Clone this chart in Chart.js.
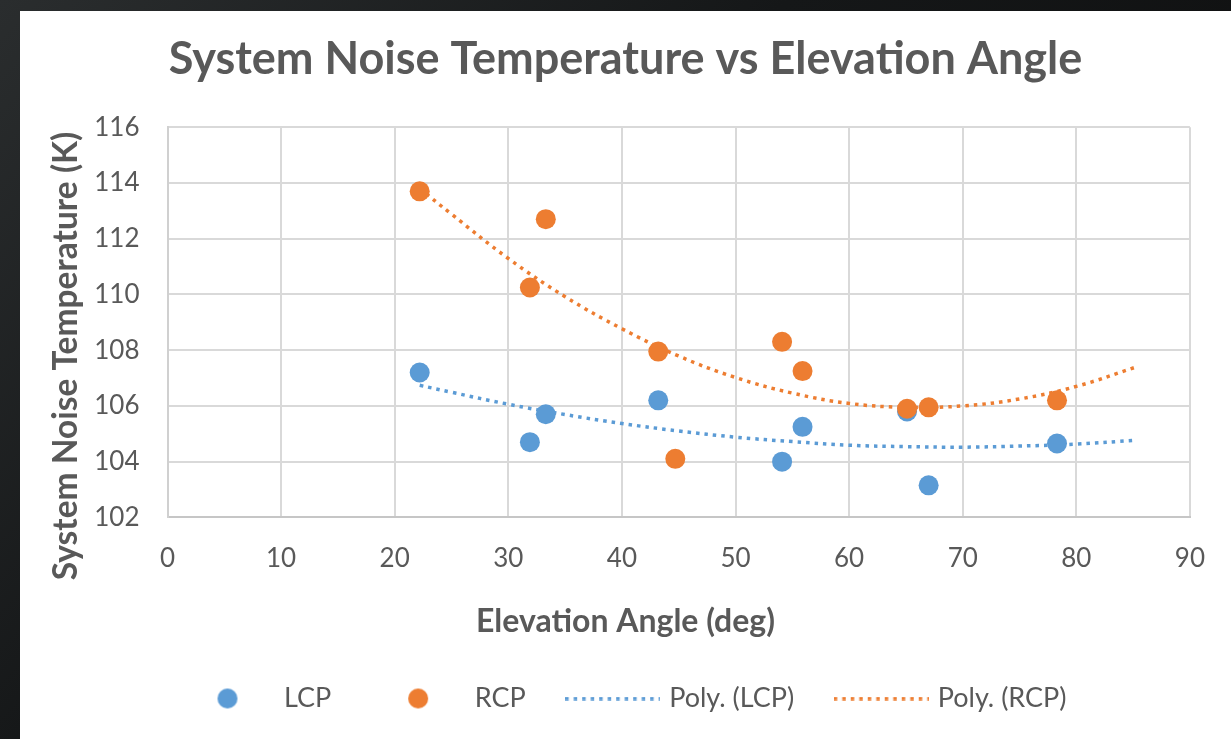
<!DOCTYPE html>
<html>
<head>
<meta charset="utf-8">
<script src="https://cdn.jsdelivr.net/npm/chart.js@4/dist/chart.umd.min.js"></script>
<style>
  html, body { margin: 0; padding: 0; }
  body {
    width: 1231px; height: 739px; overflow: hidden; position: relative;
    background: linear-gradient(135deg, #2a2d2e 0%, #151718 40%, #0b0b0b 100%);
  }
  #panel { position: absolute; left: 20px; top: 11px; width: 1211px; height: 728px; background: #ffffff; }
  #chart { display: block; }
</style>
</head>
<body>
<div id="panel"><canvas id="chart" width="1211" height="728"></canvas></div>
<script>
// Elevation angle (deg) of each measurement
const lcpAngles = [22.2, 31.9, 33.3, 43.2, 54.1, 55.9, 65.1, 67.0, 78.3];
const rcpAngles = [22.2, 31.9, 33.3, 43.2, 44.7, 54.1, 55.9, 65.1, 67.0, 78.3];
// System noise temperature (K)
const lcpTemps = [107.2, 104.7, 105.7, 106.2, 104.0, 105.25, 105.8, 103.15, 104.65];
const rcpTemps = [113.7, 110.25, 112.7, 107.95, 104.1, 108.3, 107.25, 105.9, 105.95, 106.2];
// 2nd-order polynomial trendlines, sampled along the angle range
const trendAngles = [22.2, 25, 30, 35, 40, 45, 50, 55, 60, 65, 70, 75, 80, 85.3];
const lcpTrend = [106.74, 106.49, 106.06, 105.69, 105.37, 105.10, 104.88, 104.72, 104.59, 104.54, 104.52, 104.56, 104.63, 104.77];
const rcpTrend = [113.8, 112.88, 111.29, 109.92, 108.77, 107.79, 107.02, 106.46, 106.09, 105.95, 106.0, 106.25, 106.7, 107.4];
// Axis ticks
const xTicks = [0, 10, 20, 30, 40, 50, 60, 70, 80, 90];
const yTicks = [102, 104, 106, 108, 110, 112, 114, 116];

const BLUE = '#5B9BD5';
const ORANGE = '#ED7D31';
const TEXT = '#595959';
const FONT = 'Lato, "Open Sans", sans-serif';

const toPoints = (xs, ys) => xs.map((x, i) => ({ x, y: ys[i] }));

// Legend symbols
function dotIcon(color) {
  const c = document.createElement('canvas');
  c.width = 22; c.height = 22;
  const g = c.getContext('2d');
  g.fillStyle = color;
  g.beginPath(); g.arc(11, 11, 10, 0, Math.PI * 2); g.fill();
  return c;
}
function dottedIcon(color) {
  const c = document.createElement('canvas');
  c.width = 95; c.height = 4;
  const g = c.getContext('2d');
  g.strokeStyle = color; g.lineWidth = 3.5;
  g.setLineDash([3.5, 5]);
  g.beginPath(); g.moveTo(0, 2); g.lineTo(95, 2); g.stroke();
  return c;
}
const legendIcons = [dotIcon(BLUE), dotIcon(ORANGE), dottedIcon(BLUE), dottedIcon(ORANGE)];

// Rotated y-axis title
const yTitlePlugin = {
  id: 'yTitle',
  afterDraw(chart, args, opts) {
    const ctx = chart.ctx;
    ctx.save();
    ctx.translate(opts.x, opts.y);
    ctx.rotate(-Math.PI / 2);
    ctx.font = opts.font;
    ctx.fillStyle = opts.color;
    ctx.textAlign = 'center';
    ctx.textBaseline = 'middle';
    ctx.fillText(opts.text, 0, 0);
    ctx.restore();
  }
};

new Chart(document.getElementById('chart'), {
  type: 'scatter',
  data: {
    datasets: [
      { label: 'LCP', data: toPoints(lcpAngles, lcpTemps), backgroundColor: BLUE, borderWidth: 0,
        pointRadius: 10, pointHoverRadius: 10, order: 1 },
      { label: 'RCP', data: toPoints(rcpAngles, rcpTemps), backgroundColor: ORANGE, borderWidth: 0,
        pointRadius: 10, pointHoverRadius: 10, order: 0 },
      { label: 'Poly. (LCP)', data: toPoints(trendAngles, lcpTrend), showLine: true, borderColor: BLUE,
        borderWidth: 3.5, borderDash: [3.5, 5], pointRadius: 0, tension: 0.4, fill: false, order: 2 },
      { label: 'Poly. (RCP)', data: toPoints(trendAngles, rcpTrend), showLine: true, borderColor: ORANGE,
        borderWidth: 3.5, borderDash: [3.5, 5], pointRadius: 0, tension: 0.4, fill: false, order: 3 }
    ]
  },
  options: {
    responsive: false,
    animation: false,
    devicePixelRatio: 1,
    layout: { padding: { left: 41, right: 41, top: 0, bottom: 17 } },
    scales: {
      x: {
        type: 'linear', min: 0, max: 90,
        afterBuildTicks: s => { s.ticks = xTicks.map(v => ({ value: v })); },
        afterFit: s => { s.height = 56.7; },
        ticks: { color: TEXT, font: { family: FONT, size: 26 }, padding: 26, maxRotation: 0 },
        grid: { color: '#d9d9d9', lineWidth: 2, drawTicks: false },
        border: { color: '#c6c6c6', width: 2 }
      },
      y: {
        type: 'linear', min: 102, max: 116,
        afterBuildTicks: s => { s.ticks = yTicks.map(v => ({ value: v })); },
        afterFit: s => { s.width = 106.5; },
        ticks: { color: TEXT, font: { family: FONT, size: 26 }, padding: 28 },
        grid: { color: '#d9d9d9', lineWidth: 2, drawTicks: false },
        border: { color: '#d0d0d0', width: 2 }
      }
    },
    plugins: {
      title: {
        display: true, text: 'System Noise Temperature vs Elevation Angle',
        color: TEXT, font: { family: FONT, size: 45, weight: 'bold' },
        padding: { top: 21, bottom: 41.2 }
      },
      subtitle: {
        display: true, text: 'Elevation Angle (deg)', position: 'bottom', weight: 500,
        color: TEXT, font: { family: FONT, size: 32, weight: 'bold' },
        padding: { top: 28.5, bottom: 0 }
      },
      legend: {
        position: 'bottom',
        labels: {
          usePointStyle: true, pointStyleWidth: 86, padding: 44,
          color: TEXT, font: { family: FONT, size: 27 },
          generateLabels: chart => chart.data.datasets.map((ds, i) => ({
            text: ds.label, datasetIndex: i, pointStyle: legendIcons[i],
            fillStyle: 'transparent', strokeStyle: 'transparent', lineWidth: 0,
            fontColor: TEXT, hidden: false
          }))
        }
      },
      tooltip: { enabled: false },
      yTitle: {
        text: 'System Noise Temperature (K)', x: 46, y: 345,
        font: 'bold 33.5px ' + FONT, color: TEXT
      }
    }
  },
  plugins: [yTitlePlugin]
});
</script>
</body>
</html>
